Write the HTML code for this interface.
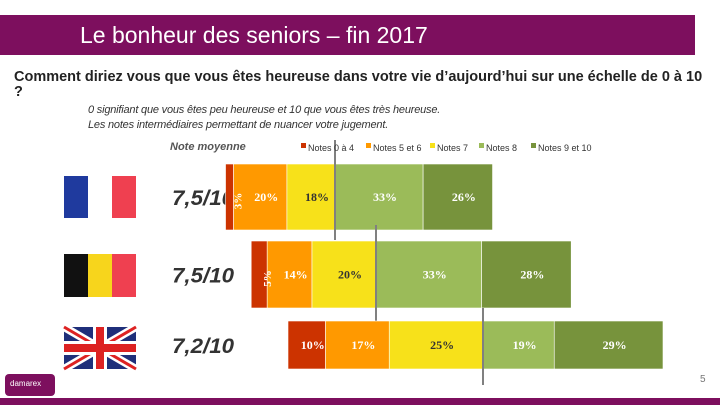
<!DOCTYPE html>
<html><head><meta charset="utf-8"><style>
body{margin:0;width:720px;height:405px;overflow:hidden;background:#fff;font-family:"Liberation Sans",sans-serif;position:relative}
.abs{position:absolute}
</style></head><body>
<div class="abs" style="left:0;top:15px;width:695px;height:40px;background:#7d0f5e"></div>
<div class="abs" style="left:80px;top:22px;color:#fff;font-size:23px;white-space:nowrap">Le bonheur des seniors – fin 2017</div>
<div class="abs" style="left:14px;top:70px;font-size:14.5px;font-weight:bold;color:#222;line-height:15px;width:696px">Comment diriez vous que vous êtes heureuse dans votre vie d’aujourd’hui sur une échelle de 0 à 10 ?</div>
<div class="abs" style="left:88px;top:103px;font-size:11px;font-style:italic;color:#333;line-height:15px;letter-spacing:-0.2px">0 signifiant que vous êtes peu heureuse et 10 que vous êtes très heureuse.<br>Les notes intermédiaires permettant de nuancer votre jugement.</div>
<div class="abs" style="left:170px;top:141px;font-size:11px;font-style:italic;font-weight:bold;color:#555">Note moyenne</div>
<svg class="abs" style="left:0;top:0" width="720" height="405">
<g><rect x="64" y="176" width="24" height="42" fill="#1f3a9e"/><rect x="88" y="176" width="24" height="42" fill="#fff"/><rect x="112" y="176" width="24" height="42" fill="#ef4050"/></g>
<g><rect x="64" y="254" width="24" height="43" fill="#111"/><rect x="88" y="254" width="24" height="43" fill="#f7d51c"/><rect x="112" y="254" width="24" height="43" fill="#ef4050"/></g>
<g><rect x="64" y="327" width="72" height="42" fill="#1f2f7a"/>
<line x1="64" y1="327" x2="136" y2="369" stroke="#fff" stroke-width="8"/><line x1="136" y1="327" x2="64" y2="369" stroke="#fff" stroke-width="8"/>
<line x1="64" y1="327" x2="136" y2="369" stroke="#d22" stroke-width="3"/><line x1="136" y1="327" x2="64" y2="369" stroke="#d22" stroke-width="3"/>
<rect x="64" y="341" width="72" height="14" fill="#fff"/><rect x="93" y="327" width="14" height="42" fill="#fff"/>
<rect x="64" y="344" width="72" height="8" fill="#d22"/><rect x="96" y="327" width="8" height="42" fill="#d22"/></g>
<rect x="0" y="398" width="720" height="7" fill="#7d0f5e"/>
<rect x="5" y="374" width="50" height="22" rx="4" fill="#7d0f5e"/>
<text x="10" y="386" font-size="8" fill="#fff" font-family="Liberation Sans">damarex</text>
<text x="700" y="382" font-size="10" fill="#777" font-family="Liberation Sans">5</text>
</svg>
<svg id="chart" class="abs" style="left:0;top:0" width="720" height="405"></svg>
<script>
const categories=["France","Belgique","Royaume-Uni"];
const averages=["7,5/10","7,5/10","7,2/10"];
const seriesNames=["Notes 0 à 4","Notes 5 et 6","Notes 7","Notes 8","Notes 9 et 10"];
const s0=[3,5,10];
const s1=[20,14,17];
const s2=[18,20,25];
const s3=[33,33,19];
const s4=[26,28,29];
const colors=["#cc3300","#ff9900","#f7e11a","#9bbb59","#77933c"];
const labelColors=["#fff","#fff","#333","#fff","#fff"];
const rowTop=[164,241,321], rowH=[66,67,48], rowScale=[2.67,3.2,3.75], rowAnchor=[335,376,483];
const lineY=[[140,240],[225,325],[308,385]];
const svg=document.getElementById('chart');const NS="http://www.w3.org/2000/svg";
function mk(t,a){const e=document.createElementNS(NS,t);for(const k in a)e.setAttribute(k,a[k]);svg.appendChild(e);return e;}
const series=[s0,s1,s2,s3,s4];
categories.forEach((c,i)=>{
 const xs=v=>v*rowScale[i];
 let x=rowAnchor[i]-xs(series[0][i]+series[1][i]+series[2][i]);
 const a=mk('text',{x:172,y:rowTop[i]+rowH[i]/2+8,'font-size':21,textLength:62,lengthAdjust:'spacingAndGlyphs','font-style':'italic','font-weight':'bold','font-family':'Liberation Sans',fill:'#333'});
 a.textContent=averages[i];
 
 
 series.forEach((s,j)=>{
  const w=xs(s[i]);
  const r=mk('rect',{x:x,y:rowTop[i],width:w,height:rowH[i],fill:colors[j],stroke:'#fff','stroke-width':0.6});
  
  
  x+=w;
 });
 x=rowAnchor[i]-xs(series[0][i]+series[1][i]+series[2][i]);
 series.forEach((s,j)=>{
  const w=xs(s[i]);
  const cy=rowTop[i]+rowH[i]/2+4;
  let t;
  if(w<20){t=mk('text',{x:0,y:0,transform:`translate(${x+w/2+12},${cy}) rotate(-90)`,'text-anchor':'middle','font-size':11,'font-weight':'bold','font-family':'Liberation Serif',fill:'#fff'});}
  else{t=mk('text',{x:x+w/2+6,y:cy,'text-anchor':'middle','font-size':12,'font-weight':'bold','font-family':'Liberation Serif',fill:labelColors[j]});}
  t.textContent=s[i]+'%';
  
  
  x+=w;
 });
 const l=mk('line',{x1:rowAnchor[i],x2:rowAnchor[i],y1:lineY[i][0],y2:lineY[i][1],stroke:'#808080','stroke-width':2});
 
 
});
const legX=[301,366,430,479,531];
seriesNames.forEach((n,j)=>{
 const r=mk('rect',{x:legX[j],y:143,width:5,height:5,fill:colors[j]});
 
 
 const t=mk('text',{x:legX[j]+7,y:151,'font-size':9,'font-family':'Liberation Sans',fill:'#333'});
 t.textContent=n;
 
 
});
</script>
</body></html>
